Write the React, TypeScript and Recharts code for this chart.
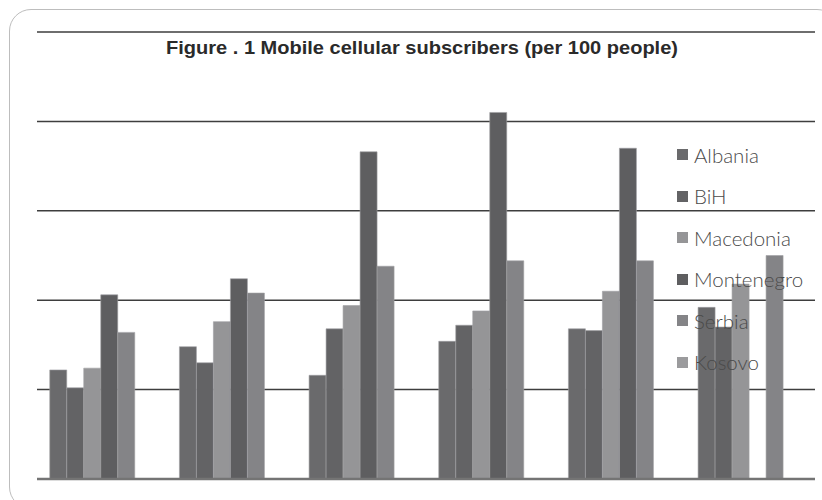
import React from "react";
import { BarChart, Bar, XAxis, YAxis, CartesianGrid, ReferenceLine } from "recharts";

const categories = ["2004", "2005", "2006", "2007", "2008", "2009"];
const albania = [61, 74, 58, 77, 84, 96];
const bih = [51, 65, 84, 86, 83, 85];
const macedonia = [62, 88, 97, 94, 105, 109];
const montenegro = [103, 112, 183, 205, 185, null];
const serbia = [82, 104, 119, 122, 122, 125];
const kosovo = [null, null, null, null, null, null];
const yTicks = [0, 50, 100, 150, 200, 250];

const seriesNames = ["Albania", "BiH", "Macedonia", "Montenegro", "Serbia", "Kosovo"];
const seriesKeys = ["albania", "bih", "macedonia", "montenegro", "serbia", "kosovo"];
const seriesColors = ["#6a6a6c", "#636365", "#959597", "#5e5e60", "#848487", "#9b9b9d"];

const data = categories.map((c, i) => ({
  cat: c,
  albania: albania[i],
  bih: bih[i],
  macedonia: macedonia[i],
  montenegro: montenegro[i],
  serbia: serbia[i],
  kosovo: kosovo[i],
}));

const LegendBox = () => (
  <div
    style={{
      position: "absolute",
      left: 677,
      top: 134,
      fontFamily: "Lato, 'Open Sans', sans-serif",
      fontSize: 20.5,
      color: "#4a4a4a",
      fontWeight: 300,
    }}
  >
    {seriesNames.map((n, i) => (
      <div key={n} style={{ display: "flex", alignItems: "center", height: 41.5 }}>
        <span style={{ display: "inline-block", width: 11, height: 11, background: seriesColors[i], marginRight: 6 }} />
        <span>{n}</span>
      </div>
    ))}
  </div>
);

export default function App() {
  return (
    <div style={{ position: "absolute", left: 0, top: 0, width: 822, height: 500, overflow: "hidden", background: "#fff" }}>
      <div
        style={{
          position: "absolute",
          left: 9,
          top: 9,
          width: 830,
          height: 500,
          border: "1.5px solid #bdbdbd",
          borderRadius: 22,
          boxSizing: "border-box",
        }}
      />
      <div style={{ position: "absolute", left: 0, top: 0 }}>
        <BarChart
          width={822}
          height={500}
          data={data}
          margin={{ top: 32, right: 7, left: 37, bottom: 21 }}
          barCategoryGap={12.75}
          barGap={0}
        >
          <CartesianGrid vertical={false} stroke="#3e3e3e" strokeWidth={1.5} />
          <XAxis dataKey="cat" hide />
          <YAxis hide domain={[0, 250]} ticks={yTicks} />
          {seriesKeys.map((k, i) => (
            <Bar
              key={k}
              dataKey={k}
              name={seriesNames[i]}
              fill={seriesColors[i]}
              stroke="#a0a0a2"
              strokeWidth={0.6}
              isAnimationActive={false}
            />
          ))}
          <ReferenceLine y={0} stroke="#747474" strokeWidth={2.5} />
        </BarChart>
      </div>
      <LegendBox />
      <svg style={{ position: "absolute", left: 0, top: 0 }} width={822} height={70}>
        <text
          x={422}
          y={54}
          textAnchor="middle"
          textLength={512}
          lengthAdjust="spacingAndGlyphs"
          fontFamily="'Liberation Sans', Arial, sans-serif"
          fontWeight={700}
          fontSize={17.5}
          fill="#2a2a2a"
        >
          Figure . 1 Mobile cellular subscribers (per 100 people)
        </text>
      </svg>
    </div>
  );
}
